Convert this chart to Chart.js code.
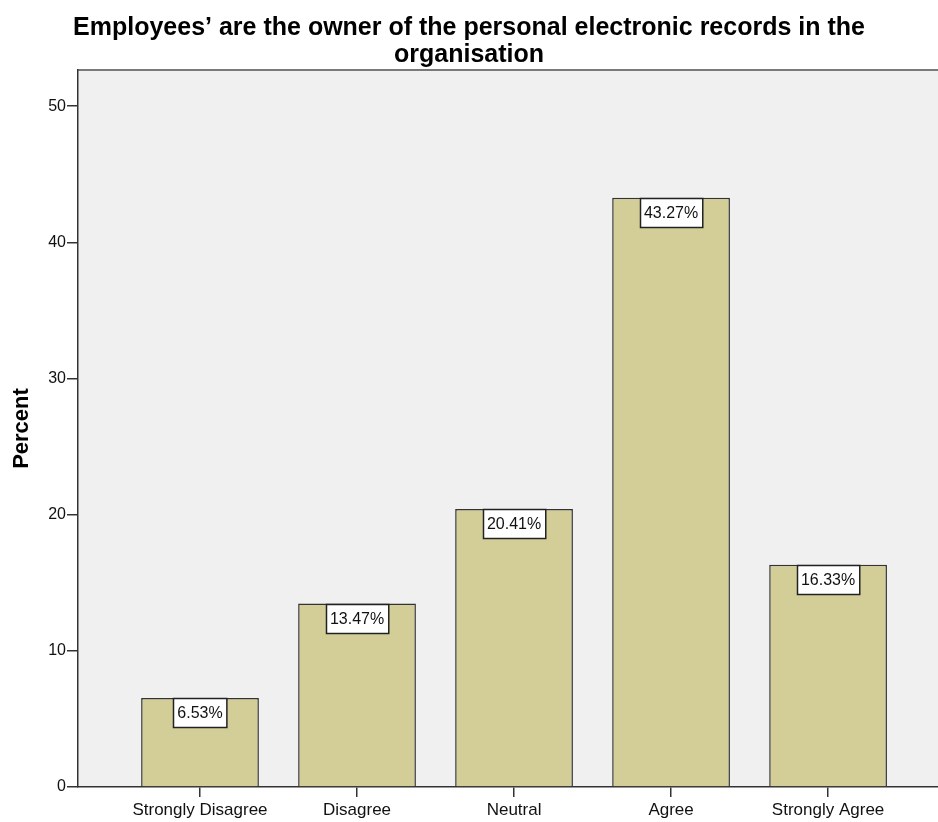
<!DOCTYPE html>
<html>
<head>
<meta charset="utf-8">
<script src="https://cdn.jsdelivr.net/npm/chart.js@4"></script>
<style>
  body { margin: 0; background: #fff; }
  #wrap { width: 938px; height: 822px; position: relative; }
</style>
</head>
<body>
<div id="wrap"><canvas id="myChart"></canvas></div>
<script>
// data
const categories = ["Strongly Disagree", "Disagree", "Neutral", "Agree", "Strongly Agree"];
const percents = [6.53, 13.47, 20.41, 43.27, 16.33];
const yTicks = [0, 10, 20, 30, 40, 50];

const FONT = "'Liberation Sans', Arial, sans-serif";

// grey plot background + top border
const plotBg = {
  id: "plotBg",
  beforeDraw(chart) {
    const { ctx, chartArea: a } = chart;
    ctx.save();
    ctx.fillStyle = "#f0f0f0";
    ctx.fillRect(a.left, a.top, a.right - a.left, a.bottom - a.top);
    ctx.strokeStyle = "#7a7a7a";
    ctx.lineWidth = 2;
    ctx.beginPath();
    ctx.moveTo(a.left, a.top);
    ctx.lineTo(a.right, a.top);
    ctx.stroke();
    ctx.restore();
  }
};

// white boxed percent labels at top of each bar
const boxLabels = {
  id: "boxLabels",
  afterDatasetsDraw(chart) {
    const ctx = chart.ctx;
    const meta = chart.getDatasetMeta(0);
    ctx.save();
    ctx.font = "16px " + FONT;
    ctx.textAlign = "center";
    ctx.textBaseline = "middle";
    meta.data.forEach((bar, i) => {
      const txt = percents[i].toFixed(2) + "%";
      const w = ctx.measureText(txt).width + 8;
      const h = 29;
      const x = Math.round(bar.x - w / 2) + 0.5;
      const y = Math.round(bar.y) + 0.5;
      ctx.fillStyle = "#fff";
      ctx.fillRect(x, y, w, h);
      ctx.strokeStyle = "#222";
      ctx.lineWidth = 1.5;
      ctx.strokeRect(x, y, w, h);
      ctx.fillStyle = "#111";
      ctx.fillText(txt, bar.x, y + h / 2 + 1);
    });
    ctx.restore();
  }
};

const ctx = document.getElementById("myChart").getContext("2d");
new Chart(ctx, {
  type: "bar",
  data: {
    datasets: [{
      data: percents.map((v, i) => ({ x: i, y: v })),
      backgroundColor: "#d3ce98",
      borderColor: "#333",
      borderWidth: 1.5,
      borderSkipped: "bottom",
      categoryPercentage: 1,
      barPercentage: 0.75
    }]
  },
  options: {
    responsive: true,
    maintainAspectRatio: false,
    animation: false,
    layout: { padding: { left: 0, right: 0, top: 0, bottom: 0 } },
    plugins: {
      legend: { display: false },
      tooltip: { enabled: false },
      title: {
        display: true,
        text: ["Employees\u2019 are the owner of the personal electronic records in the", "organisation"],
        color: "#000",
        font: { family: FONT, size: 25, weight: "bold", lineHeight: 1.1 },
        padding: { top: 14, bottom: 1 }
      }
    },
    scales: {
      x: {
        type: "linear",
        offset: false,
        min: -0.777,
        max: 4.7,
        afterBuildTicks(scale) {
          scale.ticks = categories.map((c, i) => ({ value: i }));
        },
        afterFit(scale) { scale.height = 35; },
        ticks: {
          color: "#111",
          font: { family: FONT, size: 17 },
          padding: 3,
          maxRotation: 0,
          autoSkip: false,
          callback: v => categories[v]
        },
        grid: {
          drawOnChartArea: false,
          drawTicks: true,
          tickLength: 10,
          color: "#333",
          lineWidth: 1.5,
          offset: false
        },
        border: { display: true, color: "#333", width: 1.5 }
      },
      y: {
        min: 0,
        max: 52.66,
        afterBuildTicks(scale) {
          scale.ticks = yTicks.map(v => ({ value: v }));
        },
        afterFit(scale) { scale.width = 78; },
        ticks: {
          color: "#111",
          font: { family: FONT, size: 16 },
          padding: 1
        },
        grid: {
          drawOnChartArea: false,
          drawTicks: true,
          tickLength: 11,
          color: "#333",
          lineWidth: 1.5
        },
        border: { display: true, color: "#333", width: 1.5 },
        title: {
          display: true,
          text: "Percent",
          color: "#000",
          font: { family: FONT, size: 22, weight: "bold" },
          padding: { top: 9, bottom: 0 }
        }
      }
    }
  },
  plugins: [plotBg, boxLabels]
});
</script>
</body>
</html>
